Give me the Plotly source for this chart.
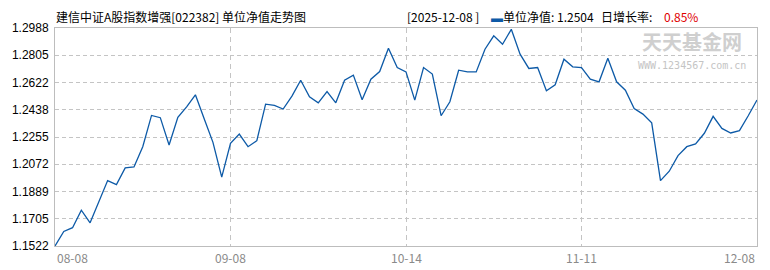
import plotly.graph_objects as go

# ---- data ----
nav = [1.1522, 1.1620, 1.1645, 1.1763, 1.1678, 1.1822, 1.1962, 1.1935, 1.2047, 1.2054,
       1.2190, 1.2400, 1.2385, 1.2201, 1.2387, 1.2458, 1.2539, 1.2378, 1.2219, 1.1985,
       1.2213, 1.2275, 1.2190, 1.2230, 1.2476, 1.2467, 1.2443, 1.2530, 1.2637, 1.2525,
       1.2485, 1.2561, 1.2485, 1.2637, 1.2671, 1.2505, 1.2644, 1.2695, 1.2852, 1.2722,
       1.2693, 1.2503, 1.2722, 1.2678, 1.2398, 1.2492, 1.2704, 1.2693, 1.2693, 1.2845,
       1.2935, 1.2879, 1.2979, 1.2812, 1.2716, 1.2722, 1.2566, 1.2606, 1.2778, 1.2727,
       1.2722, 1.2644, 1.2626, 1.2785, 1.2626, 1.2570, 1.2447, 1.2409, 1.2350, 1.1962,
       1.2025, 1.2130, 1.2190, 1.2208, 1.2280, 1.2394, 1.2313, 1.2282, 1.2298, 1.2398,
       1.2504]
x_idx = list(range(len(nav)))
x_tick_pos = [0, 20, 40, 60, 80]
x_tick_labels = ["08-08", "09-08", "10-14", "11-11", "12-08"]
y_ticks = [1.1522, 1.1705, 1.1889, 1.2072, 1.2255, 1.2438, 1.2622, 1.2805, 1.2988]
y_tick_labels = ["1.1522", "1.1705", "1.1889", "1.2072", "1.2255", "1.2438", "1.2622", "1.2805", "1.2988"]
title_left = "建信中证A股指数增强[022382] 单位净值走势图"
last_date = "[2025-12-08 ]"
last_nav = "1.2504"
last_growth = "0.85%"

# ---- layout constants ----
W, H = 770, 270
L, R, T, B = 54, 12, 28, 24
PW, PH = W - L - R, H - T - B
FONT = "Noto Sans CJK SC, Liberation Sans, sans-serif"
LINE_COLOR = "#0d5aa7"
GRID_COLOR = "#c4c4c4"


def px(xpix):
    return (xpix - L) / PW


def py(ypix):
    return (H - B - ypix) / PH


fig = go.Figure()
fig.add_trace(go.Scatter(x=x_idx, y=nav, mode="lines",
                         line=dict(color=LINE_COLOR, width=1.3),
                         hoverinfo="skip", showlegend=False))

annotations = []
# x tick labels
for i, (pos, lab) in enumerate(zip(x_tick_pos, x_tick_labels)):
    anchor = "left" if i == 0 else ("right" if i == len(x_tick_pos) - 1 else "center")
    annotations.append(dict(x=pos, y=py(257), xref="x", yref="paper", text=lab,
                            showarrow=False, xanchor=anchor, yanchor="middle",
                            font=dict(family=FONT, size=12, color="#8a8a8a")))

# titles
annotations.append(dict(x=px(53), y=py(16), xref="paper", yref="paper", text=title_left,
                        showarrow=False, xanchor="left", yanchor="middle",
                        font=dict(family=FONT, size=12, color="#000000")))
annotations.append(dict(x=px(405), y=py(16), xref="paper", yref="paper", text=last_date,
                        showarrow=False, xanchor="left", yanchor="middle",
                        font=dict(family=FONT, size=12, color="#000000")))
annotations.append(dict(x=px(489), y=py(16), xref="paper", yref="paper",
                        text=f'<span style="color:{LINE_COLOR}">▬</span>单位净值: {last_nav}',
                        showarrow=False, xanchor="left", yanchor="middle",
                        font=dict(family=FONT, size=12, color="#000000")))
annotations.append(dict(x=px(600), y=py(16), xref="paper", yref="paper", text="日增长率:",
                        showarrow=False, xanchor="left", yanchor="middle",
                        font=dict(family=FONT, size=12, color="#000000")))
annotations.append(dict(x=px(663), y=py(16), xref="paper", yref="paper", text=last_growth,
                        showarrow=False, xanchor="left", yanchor="middle",
                        font=dict(family=FONT, size=12, color="#e00000")))

# watermark
annotations.append(dict(x=px(693), y=py(58), xref="paper", yref="paper", text="<b>天天基金网</b>",
                        showarrow=False, xanchor="center", yanchor="bottom",
                        font=dict(family=FONT, size=20, color="#cfcfcf")))
annotations.append(dict(x=px(693), y=py(58), xref="paper", yref="paper", text="WWW.1234567.com.cn",
                        showarrow=False, xanchor="center", yanchor="top",
                        font=dict(family="DejaVu Sans Mono, monospace", size=10, color="#c4c4c4")))

fig.update_layout(
    width=W, height=H,
    margin=dict(l=L, r=R, t=T, b=B, pad=0),
    paper_bgcolor="white", plot_bgcolor="white",
    annotations=annotations,
    xaxis=dict(range=[0, len(nav) - 1], tickmode="array", tickvals=x_tick_pos[1:-1],
               showticklabels=False, ticks="", showgrid=True, gridcolor=GRID_COLOR,
               griddash="5px,4px", gridwidth=1, zeroline=False,
               showline=True, linecolor="#bdbdbd", linewidth=1, mirror=True, fixedrange=True),
    yaxis=dict(range=[y_ticks[0], y_ticks[-1]], tickmode="array", tickvals=y_ticks,
               ticktext=y_tick_labels, ticks="", showgrid=True, gridcolor=GRID_COLOR,
               griddash="4px,3px", gridwidth=1, zeroline=False,
               showline=True, linecolor="#bdbdbd", linewidth=1, mirror=True,
               tickfont=dict(family="Liberation Sans, Arial, sans-serif", size=12, color="#000000"),
               ticklabelstandoff=3, fixedrange=True),
)

fig.write_html("out.html", config={"displayModeBar": False})
